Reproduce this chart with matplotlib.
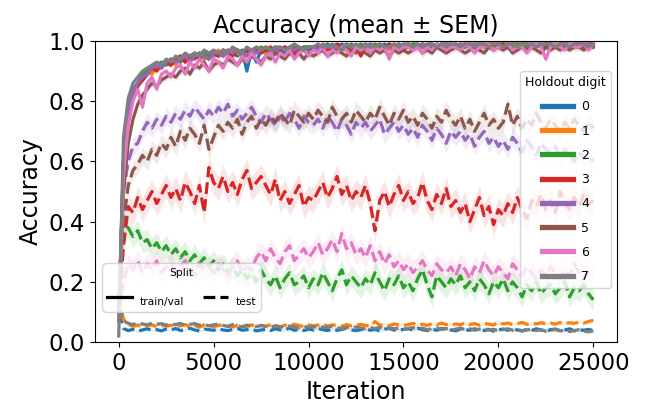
import numpy as np
import matplotlib
matplotlib.use("Agg")
import matplotlib.pyplot as plt
from matplotlib.lines import Line2D

# logged every 250 iterations
iteration = np.arange(0, 25001, 250)
digits = [0, 1, 2, 3, 4, 5, 6, 7]
colors = ["#1f77b4", "#ff7f0e", "#2ca02c", "#d62728",
          "#9467bd", "#8c564b", "#e377c2", "#7f7f7f"]

# ---- test accuracy (dashed) ----
test_0 = [0.10,
          0.045, 0.038, 0.042, 0.036, 0.040, 0.044, 0.039, 0.041, 0.037, 0.043,
          0.040, 0.045, 0.038, 0.042, 0.046, 0.040, 0.037, 0.043, 0.041, 0.039,
          0.044, 0.040, 0.038, 0.042, 0.045, 0.039, 0.041, 0.043, 0.037, 0.040,
          0.042, 0.038, 0.044, 0.040, 0.041, 0.046, 0.039, 0.042, 0.038, 0.043,
          0.040, 0.045, 0.041, 0.038, 0.043, 0.039, 0.042, 0.046, 0.040, 0.038,
          0.041, 0.044, 0.039, 0.042, 0.037, 0.043, 0.045, 0.040, 0.038, 0.042,
          0.044, 0.040, 0.046, 0.041, 0.038, 0.043, 0.039, 0.045, 0.042, 0.040,
          0.037, 0.043, 0.041, 0.039, 0.044, 0.040, 0.038, 0.042, 0.036, 0.041,
          0.043, 0.039, 0.045, 0.040, 0.037, 0.042, 0.038, 0.044, 0.040, 0.036,
          0.041, 0.043, 0.038, 0.040, 0.044, 0.037, 0.041, 0.039, 0.042, 0.038]
test_1 = [0.16,
          0.075, 0.058, 0.052, 0.056, 0.050, 0.054, 0.057, 0.051, 0.055, 0.053,
          0.056, 0.050, 0.054, 0.058, 0.052, 0.055, 0.049, 0.057, 0.053, 0.051,
          0.055, 0.058, 0.052, 0.050, 0.056, 0.054, 0.051, 0.057, 0.053, 0.055,
          0.052, 0.058, 0.054, 0.050, 0.056, 0.053, 0.059, 0.055, 0.051, 0.057,
          0.054, 0.056, 0.060, 0.053, 0.057, 0.055, 0.052, 0.058, 0.054, 0.056,
          0.059, 0.055, 0.053, 0.068, 0.056, 0.058, 0.054, 0.060, 0.057, 0.055,
          0.058, 0.062, 0.056, 0.059, 0.055, 0.061, 0.057, 0.063, 0.058, 0.056,
          0.060, 0.057, 0.064, 0.058, 0.061, 0.056, 0.062, 0.059, 0.057, 0.066,
          0.060, 0.063, 0.058, 0.061, 0.065, 0.059, 0.062, 0.060, 0.064, 0.061,
          0.063, 0.059, 0.065, 0.061, 0.064, 0.062, 0.066, 0.063, 0.068, 0.072]
test_2 = [0.10,
          0.36, 0.38, 0.35, 0.37, 0.33, 0.34, 0.31, 0.33, 0.30, 0.32,
          0.29, 0.31, 0.28, 0.30, 0.27, 0.29, 0.26, 0.28, 0.25, 0.27,
          0.24, 0.26, 0.23, 0.25, 0.22, 0.24, 0.21, 0.23, 0.20, 0.24,
          0.21, 0.19, 0.22, 0.18, 0.21, 0.23, 0.19, 0.20, 0.22, 0.18,
          0.21, 0.19, 0.23, 0.20, 0.17, 0.21, 0.24, 0.19, 0.22, 0.20,
          0.18, 0.21, 0.19, 0.23, 0.20, 0.17, 0.21, 0.19, 0.22, 0.18,
          0.20, 0.17, 0.21, 0.24, 0.19, 0.15, 0.22, 0.20, 0.18, 0.21,
          0.19, 0.22, 0.18, 0.20, 0.17, 0.21, 0.19, 0.16, 0.20, 0.18,
          0.21, 0.17, 0.20, 0.18, 0.15, 0.19, 0.17, 0.20, 0.16, 0.18,
          0.19, 0.16, 0.18, 0.20, 0.15, 0.18, 0.17, 0.19, 0.16, 0.14]
test_3 = [0.10,
          0.32, 0.45, 0.43, 0.48, 0.44, 0.47, 0.50, 0.46, 0.49, 0.52,
          0.48, 0.51, 0.47, 0.53, 0.50, 0.46, 0.52, 0.43, 0.58, 0.53,
          0.51, 0.55, 0.50, 0.53, 0.49, 0.54, 0.57, 0.51, 0.53, 0.55,
          0.52, 0.49, 0.54, 0.47, 0.50, 0.46, 0.49, 0.52, 0.45, 0.48,
          0.47, 0.50, 0.53, 0.48, 0.51, 0.55, 0.49, 0.52, 0.47, 0.50,
          0.48, 0.52, 0.46, 0.37, 0.47, 0.50, 0.45, 0.49, 0.52, 0.47,
          0.50, 0.46, 0.48, 0.53, 0.47, 0.44, 0.49, 0.46, 0.51, 0.45,
          0.47, 0.43, 0.46, 0.40, 0.44, 0.48, 0.42, 0.45, 0.39, 0.44,
          0.42, 0.46, 0.43, 0.48, 0.44, 0.41, 0.47, 0.45, 0.49, 0.44,
          0.47, 0.43, 0.50, 0.46, 0.44, 0.48, 0.45, 0.49, 0.46, 0.47]
test_4 = [0.10,
          0.50, 0.60, 0.65, 0.66, 0.70, 0.73, 0.71, 0.74, 0.72, 0.75,
          0.73, 0.76, 0.74, 0.77, 0.75, 0.78, 0.76, 0.74, 0.77, 0.75,
          0.78, 0.76, 0.79, 0.75, 0.77, 0.74, 0.76, 0.78, 0.75, 0.73,
          0.76, 0.74, 0.72, 0.75, 0.73, 0.76, 0.74, 0.71, 0.75, 0.73,
          0.72, 0.74, 0.71, 0.75, 0.73, 0.70, 0.74, 0.72, 0.69, 0.73,
          0.71, 0.73, 0.70, 0.72, 0.74, 0.69, 0.71, 0.73, 0.70, 0.72,
          0.69, 0.71, 0.68, 0.72, 0.70, 0.67, 0.71, 0.69, 0.66, 0.70,
          0.68, 0.70, 0.67, 0.69, 0.65, 0.68, 0.70, 0.66, 0.68, 0.65,
          0.67, 0.64, 0.68, 0.66, 0.63, 0.67, 0.65, 0.62, 0.66, 0.64,
          0.63, 0.65, 0.61, 0.64, 0.62, 0.60, 0.63, 0.61, 0.62, 0.60]
test_5 = [0.10,
          0.40, 0.52, 0.57, 0.59, 0.62, 0.60, 0.64, 0.62, 0.66, 0.64,
          0.68, 0.65, 0.70, 0.67, 0.71, 0.69, 0.66, 0.72, 0.64, 0.68,
          0.72, 0.70, 0.73, 0.71, 0.74, 0.69, 0.73, 0.75, 0.71, 0.74,
          0.72, 0.75, 0.73, 0.76, 0.74, 0.72, 0.77, 0.75, 0.73, 0.76,
          0.74, 0.77, 0.75, 0.73, 0.78, 0.75, 0.74, 0.76, 0.73, 0.77,
          0.75, 0.73, 0.76, 0.74, 0.78, 0.75, 0.72, 0.76, 0.74, 0.77,
          0.73, 0.75, 0.72, 0.76, 0.74, 0.71, 0.75, 0.73, 0.77, 0.74,
          0.72, 0.75, 0.71, 0.74, 0.70, 0.73, 0.76, 0.72, 0.74, 0.71,
          0.73, 0.79, 0.72, 0.75, 0.71, 0.74, 0.72, 0.76, 0.73, 0.71,
          0.74, 0.72, 0.70, 0.73, 0.71, 0.74, 0.72, 0.70, 0.73, 0.71]
test_6 = [0.10,
          0.20, 0.26, 0.24, 0.27, 0.23, 0.26, 0.24, 0.27, 0.23, 0.25,
          0.26, 0.23, 0.25, 0.27, 0.24, 0.22, 0.26, 0.24, 0.25, 0.23,
          0.26, 0.24, 0.22, 0.25, 0.27, 0.23, 0.25, 0.24, 0.28, 0.30,
          0.27, 0.31, 0.28, 0.26, 0.30, 0.32, 0.27, 0.29, 0.31, 0.28,
          0.30, 0.33, 0.29, 0.31, 0.34, 0.30, 0.36, 0.31, 0.33, 0.29,
          0.31, 0.28, 0.32, 0.27, 0.30, 0.26, 0.29, 0.25, 0.27, 0.24,
          0.26, 0.23, 0.25, 0.27, 0.24, 0.22, 0.26, 0.24, 0.23, 0.25,
          0.22, 0.26, 0.24, 0.21, 0.25, 0.23, 0.27, 0.24, 0.22, 0.25,
          0.23, 0.21, 0.26, 0.24, 0.22, 0.25, 0.23, 0.21, 0.24, 0.22,
          0.25, 0.23, 0.21, 0.24, 0.22, 0.26, 0.23, 0.21, 0.24, 0.23]
test_7 = [0.12,
          0.070, 0.062, 0.058, 0.064, 0.060, 0.057, 0.063, 0.059, 0.061, 0.056,
          0.060, 0.058, 0.062, 0.055, 0.059, 0.061, 0.056, 0.058, 0.054, 0.057,
          0.060, 0.055, 0.052, 0.058, 0.054, 0.050, 0.056, 0.053, 0.051, 0.055,
          0.052, 0.049, 0.054, 0.051, 0.048, 0.053, 0.050, 0.047, 0.052, 0.049,
          0.051, 0.046, 0.050, 0.048, 0.052, 0.047, 0.045, 0.049, 0.046, 0.050,
          0.047, 0.044, 0.048, 0.045, 0.049, 0.043, 0.047, 0.044, 0.046, 0.042,
          0.045, 0.048, 0.043, 0.046, 0.041, 0.044, 0.047, 0.042, 0.045, 0.040,
          0.043, 0.046, 0.041, 0.044, 0.039, 0.043, 0.045, 0.040, 0.042, 0.038,
          0.041, 0.044, 0.039, 0.042, 0.037, 0.040, 0.043, 0.038, 0.041, 0.036,
          0.039, 0.042, 0.037, 0.040, 0.035, 0.038, 0.041, 0.036, 0.034, 0.037]

# ---- train/val accuracy (solid) ----
train_0 = [0.08,
           0.60, 0.77, 0.82, 0.86, 0.87, 0.89, 0.90, 0.91, 0.92, 0.93,
           0.92, 0.94, 0.93, 0.95, 0.94, 0.95, 0.96, 0.94, 0.96, 0.95,
           0.96, 0.95, 0.97, 0.96, 0.95, 0.97, 0.90, 0.97, 0.93, 0.97,
           0.96, 0.97, 0.98, 0.97, 0.96, 0.97, 0.98, 0.97, 0.98, 0.97,
           0.98, 0.97, 0.98, 0.98, 0.97, 0.98, 0.99, 0.98, 0.97, 0.98,
           0.98, 0.99, 0.98, 0.97, 0.98, 0.99, 0.98, 0.98, 0.99, 0.98,
           0.98, 0.99, 0.98, 0.99, 0.98, 0.98, 0.99, 0.98, 0.99, 0.98,
           0.99, 0.98, 0.98, 0.99, 0.98, 0.99, 0.99, 0.98, 0.99, 0.98,
           0.99, 0.98, 0.99, 0.99, 0.98, 0.99, 0.98, 0.99, 0.99, 0.98,
           0.99, 0.98, 0.99, 0.99, 0.98, 0.99, 0.99, 0.98, 0.99, 0.99]
train_1 = [0.08,
           0.58, 0.76, 0.83, 0.85, 0.88, 0.90, 0.89, 0.92, 0.91, 0.93,
           0.94, 0.92, 0.95, 0.93, 0.94, 0.96, 0.95, 0.94, 0.96, 0.95,
           0.97, 0.95, 0.96, 0.97, 0.96, 0.95, 0.97, 0.96, 0.98, 0.97,
           0.96, 0.98, 0.97, 0.97, 0.98, 0.96, 0.98, 0.97, 0.98, 0.98,
           0.97, 0.98, 0.98, 0.99, 0.97, 0.98, 0.98, 0.99, 0.98, 0.97,
           0.98, 0.99, 0.98, 0.98, 0.99, 0.98, 0.97, 0.99, 0.98, 0.99,
           0.98, 0.99, 0.98, 0.98, 0.99, 0.99, 0.98, 0.99, 0.98, 0.99,
           0.98, 0.99, 0.99, 0.98, 0.99, 0.98, 0.99, 0.99, 0.98, 0.99,
           0.99, 0.98, 0.99, 0.99, 0.98, 0.99, 0.99, 0.98, 0.99, 0.99,
           0.98, 0.99, 0.99, 0.98, 0.99, 0.99, 0.98, 0.99, 0.99, 0.99]
train_2 = [0.08,
           0.61, 0.78, 0.84, 0.86, 0.89, 0.90, 0.91, 0.92, 0.93, 0.92,
           0.94, 0.93, 0.95, 0.94, 0.95, 0.96, 0.94, 0.96, 0.95, 0.96,
           0.95, 0.97, 0.96, 0.96, 0.97, 0.95, 0.97, 0.96, 0.97, 0.98,
           0.97, 0.96, 0.98, 0.97, 0.98, 0.97, 0.98, 0.97, 0.98, 0.98,
           0.98, 0.97, 0.98, 0.99, 0.98, 0.98, 0.97, 0.98, 0.99, 0.98,
           0.99, 0.98, 0.98, 0.99, 0.98, 0.97, 0.99, 0.98, 0.99, 0.98,
           0.98, 0.99, 0.99, 0.98, 0.98, 0.99, 0.98, 0.99, 0.99, 0.98,
           0.99, 0.98, 0.99, 0.98, 0.99, 0.99, 0.98, 0.99, 0.98, 0.99,
           0.99, 0.99, 0.98, 0.99, 0.99, 0.98, 0.99, 0.99, 0.98, 0.99,
           0.99, 0.98, 0.99, 0.99, 0.99, 0.98, 0.99, 0.99, 0.98, 0.99]
train_3 = [0.08,
           0.59, 0.76, 0.82, 0.85, 0.87, 0.89, 0.91, 0.90, 0.92, 0.93,
           0.92, 0.94, 0.95, 0.93, 0.95, 0.94, 0.96, 0.95, 0.94, 0.96,
           0.95, 0.97, 0.96, 0.95, 0.97, 0.96, 0.97, 0.95, 0.97, 0.96,
           0.97, 0.98, 0.96, 0.97, 0.98, 0.97, 0.96, 0.98, 0.97, 0.98,
           0.97, 0.98, 0.98, 0.97, 0.98, 0.99, 0.98, 0.97, 0.98, 0.98,
           0.95, 0.98, 0.99, 0.98, 0.97, 0.98, 0.99, 0.98, 0.98, 0.97,
           0.99, 0.98, 0.98, 0.99, 0.98, 0.97, 0.99, 0.98, 0.99, 0.98,
           0.98, 0.99, 0.98, 0.99, 0.98, 0.99, 0.98, 0.99, 0.99, 0.98,
           0.99, 0.98, 0.99, 0.98, 0.99, 0.99, 0.98, 0.99, 0.98, 0.99,
           0.99, 0.98, 0.99, 0.99, 0.98, 0.99, 0.99, 0.98, 0.99, 0.99]
train_4 = [0.08,
           0.60, 0.77, 0.83, 0.86, 0.88, 0.89, 0.91, 0.92, 0.91, 0.93,
           0.94, 0.93, 0.94, 0.95, 0.93, 0.95, 0.96, 0.95, 0.94, 0.96,
           0.96, 0.95, 0.97, 0.96, 0.97, 0.96, 0.95, 0.97, 0.96, 0.97,
           0.98, 0.97, 0.96, 0.98, 0.97, 0.98, 0.97, 0.98, 0.97, 0.98,
           0.98, 0.97, 0.99, 0.98, 0.98, 0.97, 0.98, 0.99, 0.98, 0.98,
           0.97, 0.99, 0.98, 0.98, 0.99, 0.98, 0.98, 0.97, 0.99, 0.98,
           0.99, 0.98, 0.98, 0.99, 0.98, 0.99, 0.98, 0.98, 0.99, 0.99,
           0.98, 0.99, 0.98, 0.99, 0.99, 0.98, 0.99, 0.98, 0.99, 0.99,
           0.98, 0.99, 0.99, 0.98, 0.99, 0.99, 0.98, 0.99, 0.99, 0.98,
           0.99, 0.99, 0.98, 0.99, 0.99, 0.98, 0.99, 0.99, 0.99, 0.98]
train_5 = [0.07,
           0.50, 0.66, 0.74, 0.79, 0.82, 0.84, 0.86, 0.85, 0.87, 0.88,
           0.89, 0.88, 0.90, 0.91, 0.89, 0.92, 0.91, 0.93, 0.90, 0.92,
           0.93, 0.92, 0.94, 0.93, 0.92, 0.94, 0.93, 0.95, 0.94, 0.93,
           0.95, 0.94, 0.96, 0.95, 0.94, 0.96, 0.95, 0.96, 0.94, 0.96,
           0.95, 0.96, 0.97, 0.95, 0.96, 0.97, 0.96, 0.95, 0.97, 0.96,
           0.97, 0.96, 0.95, 0.97, 0.96, 0.97, 0.95, 0.97, 0.96, 0.97,
           0.96, 0.97, 0.98, 0.96, 0.97, 0.96, 0.98, 0.97, 0.96, 0.97,
           0.98, 0.97, 0.96, 0.97, 0.98, 0.97, 0.96, 0.98, 0.97, 0.98,
           0.97, 0.98, 0.96, 0.97, 0.98, 0.97, 0.98, 0.97, 0.96, 0.98,
           0.97, 0.98, 0.97, 0.98, 0.97, 0.98, 0.98, 0.97, 0.98, 0.98]
train_6 = [0.08,
           0.55, 0.72, 0.80, 0.84, 0.78, 0.86, 0.88, 0.84, 0.89, 0.90,
           0.88, 0.91, 0.92, 0.89, 0.93, 0.91, 0.94, 0.92, 0.90, 0.94,
           0.93, 0.91, 0.95, 0.94, 0.92, 0.95, 0.93, 0.96, 0.94, 0.92,
           0.95, 0.96, 0.93, 0.96, 0.95, 0.97, 0.94, 0.96, 0.97, 0.95,
           0.97, 0.96, 0.98, 0.95, 0.97, 0.96, 0.98, 0.97, 0.95, 0.98,
           0.97, 0.98, 0.96, 0.98, 0.97, 0.98, 0.94, 0.98, 0.97, 0.98,
           0.98, 0.97, 0.98, 0.96, 0.98, 0.97, 0.99, 0.98, 0.97, 0.98,
           0.98, 0.97, 0.99, 0.98, 0.96, 0.98, 0.98, 0.99, 0.97, 0.98,
           0.98, 0.99, 0.97, 0.98, 0.98, 0.96, 0.98, 0.99, 0.98, 0.94,
           0.98, 0.99, 0.98, 0.97, 0.99, 0.98, 0.98, 0.99, 0.97, 0.99]
train_7 = [0.02,
           0.68, 0.81, 0.86, 0.88, 0.90, 0.91, 0.92, 0.93, 0.92, 0.94,
           0.93, 0.95, 0.94, 0.96, 0.95, 0.96, 0.95, 0.97, 0.96, 0.97,
           0.96, 0.97, 0.96, 0.98, 0.97, 0.96, 0.98, 0.97, 0.98, 0.97,
           0.98, 0.97, 0.98, 0.98, 0.97, 0.98, 0.99, 0.98, 0.97, 0.98,
           0.98, 0.99, 0.98, 0.98, 0.99, 0.98, 0.97, 0.99, 0.98, 0.99,
           0.98, 0.98, 0.99, 0.98, 0.99, 0.98, 0.98, 0.99, 0.98, 0.99,
           0.99, 0.98, 0.99, 0.98, 0.99, 0.99, 0.98, 0.99, 0.98, 0.99,
           0.99, 0.98, 0.99, 0.99, 0.98, 0.99, 0.99, 0.98, 0.99, 0.99,
           0.98, 0.99, 0.99, 0.98, 0.99, 0.99, 0.99, 0.98, 0.99, 0.99,
           0.99, 0.98, 0.99, 0.99, 0.98, 0.99, 0.99, 0.99, 0.98, 0.99]

# standard error of the mean, per digit
sem_train = [0.008, 0.008, 0.008, 0.010, 0.008, 0.012, 0.015, 0.006]
sem_test = [0.005, 0.006, 0.035, 0.040, 0.030, 0.030, 0.035, 0.005]

train = [train_0, train_1, train_2, train_3, train_4, train_5, train_6, train_7]
test = [test_0, test_1, test_2, test_3, test_4, test_5, test_6, test_7]

fig = plt.figure(figsize=(6.47, 4.04), dpi=100)
ax = fig.add_axes([95 / 647, 62 / 404, 522 / 647, 301 / 404])

for d in digits:
    c = colors[d]
    for vals, sem, ls in ((train[d], sem_train[d], "-"), (test[d], sem_test[d], "--")):
        y = np.array(vals)
        ax.fill_between(iteration, y - sem, y + sem, color=c, alpha=0.12, lw=0)
        ax.plot(iteration, y, color=c, ls=ls, lw=2.3)

ax.set_ylim(0, 1)
ax.set_xticks([0, 5000, 10000, 15000, 20000, 25000])
ax.tick_params(labelsize=16.5)
ax.set_title("Accuracy (mean ± SEM)", fontsize=17)
ax.set_xlabel("Iteration", fontsize=17)
ax.set_ylabel("Accuracy", fontsize=17)

# legend: holdout digit colours
hue_handles = [Line2D([], [], color=colors[d], lw=3.8) for d in digits]
leg1 = ax.legend(hue_handles, [str(d) for d in digits], title="Holdout digit",
                 loc="upper right", bbox_to_anchor=(0.9885, 0.90), borderaxespad=0,
                 fontsize=9, title_fontsize=9, handlelength=2.5,
                 handletextpad=0.65, labelspacing=0.9)
ax.add_artist(leg1)

# legend: split line styles (texts shrunk after layout sizes were set)
style_handles = [Line2D([], [], color="black", lw=2.3, ls="-"),
                 Line2D([], [], color="black", lw=2.3, ls="--")]
leg2 = ax.legend(style_handles, ["train/val", "test"], title="Split",
                 loc="lower left", bbox_to_anchor=(0.0134, 0.10), borderaxespad=0,
                 ncol=2, fontsize=16.5, handlelength=1.1, handletextpad=0.35,
                 columnspacing=0.8, borderpad=0.2)
for t in leg2.get_texts():
    t.set_fontsize(7.7)
leg2.get_title().set_fontsize(7.7)

fig.savefig("out.png", dpi=100)
